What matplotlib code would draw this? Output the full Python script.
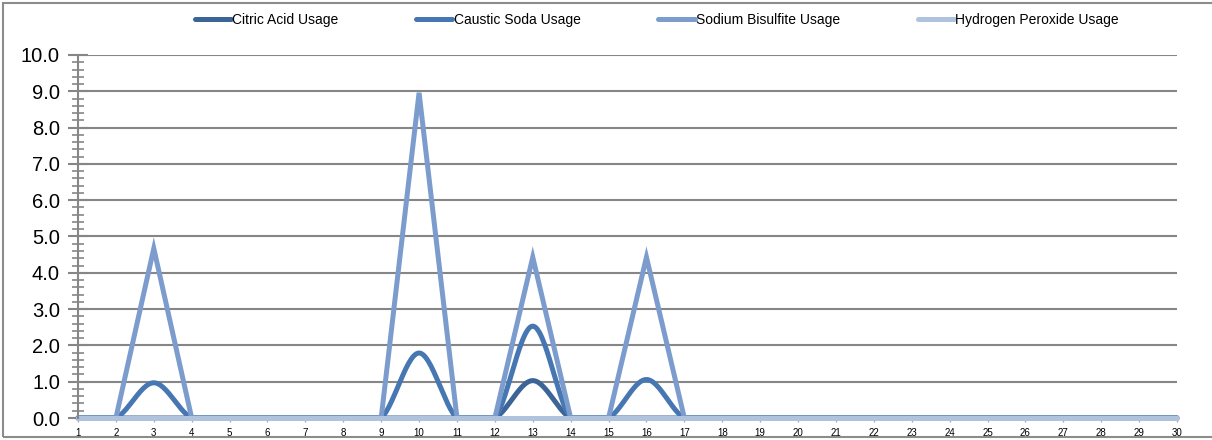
import numpy as np
import matplotlib.pyplot as plt
from matplotlib.patches import Rectangle

# daily chemical usage chart (Excel style, smoothed lines)

days = list(range(1, 31))

citric_acid = [0]*30
citric_acid[12] = 1.03

caustic_soda = [0]*30
caustic_soda[2] = 0.97
caustic_soda[9] = 1.79
caustic_soda[12] = 2.53
caustic_soda[15] = 1.06

sodium_bisulfite = [0]*30
sodium_bisulfite[2] = 4.67
sodium_bisulfite[9] = 8.96
sodium_bisulfite[12] = 4.43
sodium_bisulfite[15] = 4.43

hydrogen_peroxide = [0]*30

labels = ['Citric Acid Usage', 'Caustic Soda Usage', 'Sodium Bisulfite Usage', 'Hydrogen Peroxide Usage']
colors = ['#3c6497', '#4777b2', '#7b9ccd', '#afc3de']

# ================================================

def smooth(x, y, n=30):
    """ Bezier smoothing similar to Excel's smoothed line. """
    x = np.asarray(x, float)
    y = np.asarray(y, float)
    xs, ys = [], []
    m = len(x)
    t = np.linspace(0, 1, n)
    for i in range(m-1):
        i0 = max(i-1, 0)
        i3 = min(i+2, m-1)
        p1 = np.array([x[i], y[i]])
        p2 = np.array([x[i+1], y[i+1]])
        c1 = p1 + (p2 - np.array([x[i0], y[i0]]))/6
        c2 = p2 - (np.array([x[i3], y[i3]]) - p1)/6
        b = ((1-t)**3)[:,None]*p1 + (3*(1-t)**2*t)[:,None]*c1 + (3*(1-t)*t**2)[:,None]*c2 + (t**3)[:,None]*p2
        xs.extend(b[:,0]); ys.extend(b[:,1])
    return np.array(xs), np.maximum(np.array(ys), 0)

plt.rcParams['font.family'] = ['Liberation Sans', 'DejaVu Sans']

fig = plt.figure(figsize=(12.12, 4.4), dpi=100)
ax = fig.add_axes([78/1212, 1-418/440, (1177-78)/1212, (418-55)/440])

ax.set_xlim(1, 30)
ax.set_ylim(0, 10)
ax.set_yticks(np.arange(0, 10.01, 1))
ax.set_yticklabels(['%.1f' % v for v in np.arange(0, 10.01, 1)], fontsize=14.5)
ax.set_yticks(np.arange(0, 10.01, 0.2), minor=True)
ax.set_xticks(days)
ax.set_xticklabels([str(d) for d in days], fontsize=7)
ax.grid(axis='y', which='major', color='#868686', linewidth=1.5)
ax.set_axisbelow(True)

for s in ['right', 'top', 'bottom']:
    ax.spines[s].set_visible(False)
ax.spines['left'].set_color('#868686')
ax.spines['left'].set_linewidth(1.5)
ax.tick_params(axis='y', which='major', direction='inout', length=14, width=1.5, color='#868686', pad=6)
ax.tick_params(axis='y', which='minor', direction='inout', length=8, width=1.2, color='#868686')
ax.tick_params(axis='x', direction='out', length=3, width=1, color='#aaaaaa', pad=4)

series = [citric_acid, caustic_soda, sodium_bisulfite, hydrogen_peroxide]
for i, vals in enumerate(series):
    if i == 2:
        xs, ys = days, vals
    else:
        xs, ys = smooth(days, vals)
    ax.plot(xs, ys, color=colors[i], linewidth=3.6, label=labels[i], clip_on=False,
            solid_capstyle='round', solid_joinstyle='miter')

fig.legend(loc='upper center', bbox_to_anchor=(0.542, 1.0), ncol=4, frameon=False,
           fontsize=10, handlelength=2.6, columnspacing=5.6, handletextpad=0.1)

fig.patches.append(Rectangle((3/1212, 3/440), 1.1, 1-6/440, transform=fig.transFigure,
                             fill=False, edgecolor='#8c8c8c', linewidth=1.5))

plt.savefig('out.png', dpi=100)
